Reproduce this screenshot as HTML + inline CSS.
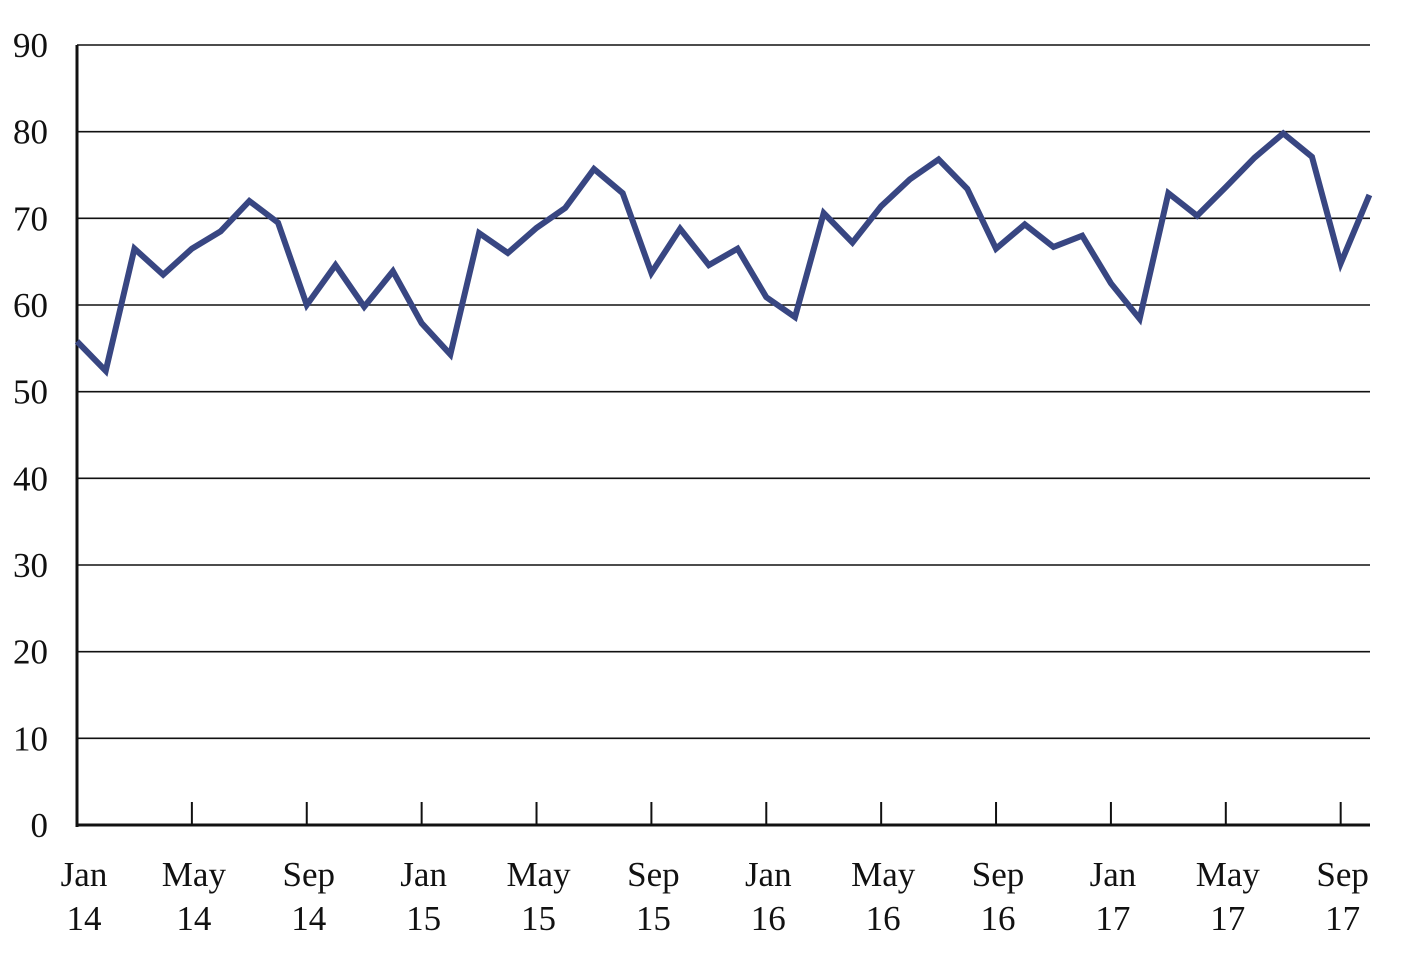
<!DOCTYPE html>
<html><head><meta charset="utf-8"><style>
body{margin:0;background:#fff}
svg text{font-family:"Liberation Serif",serif;font-size:35px;fill:#111}
</style></head><body>
<svg width="1418" height="957">
<g id="grid"></g><g id="ylabels"></g><g id="xaxis"></g><g id="series"></g>
</svg>
<script>
const values=[55.8,52.4,66.5,63.5,66.5,68.5,72,69.5,60,64.6,59.8,63.9,57.9,54.3,68.3,66,68.9,71.2,75.7,72.9,63.7,68.8,64.6,66.5,60.9,58.6,70.6,67.2,71.4,74.5,76.8,73.4,66.5,69.3,66.7,68,62.5,58.4,72.9,70.3,73.6,77,79.8,77.1,64.8,72.7];
const yTicks=[0,10,20,30,40,50,60,70,80,90];
const xTickIdx=[0,4,8,12,16,20,24,28,32,36,40,44];
const xTickLabels=[["Jan","14"],["May","14"],["Sep","14"],["Jan","15"],["May","15"],["Sep","15"],["Jan","16"],["May","16"],["Sep","16"],["Jan","17"],["May","17"],["Sep","17"]];
const NS="http://www.w3.org/2000/svg";
const x0=77,x1=1370,dx=28.72;
const X=i=>x0+i*dx;
const Y=v=>825-v*(780/90);
function mk(t,a,p){const e=document.createElementNS(NS,t);for(const k in a)e.setAttribute(k,a[k]);p.appendChild(e);return e;}
const grid=document.getElementById('grid'),yl=document.getElementById('ylabels'),xa=document.getElementById('xaxis'),se=document.getElementById('series');
yTicks.forEach(v=>{
 if(v>0){const l=mk('line',{x1:x0,x2:x1,y1:Y(v),y2:Y(v),stroke:'#111','stroke-width':1.6},grid);
 
 }
 const t=mk('text',{x:48,y:Y(v)+12,'text-anchor':'end'},yl);t.textContent=v;
 
 
});
let a=mk('line',{x1:x0,x2:x0,y1:Y(90),y2:827,stroke:'#111','stroke-width':3},xa);


a=mk('line',{x1:x0-1,x2:x1,y1:825,y2:825,stroke:'#111','stroke-width':3},xa);


xTickIdx.forEach((i,k)=>{
 if(i>0){const tk=mk('line',{x1:X(i),x2:X(i),y1:802,y2:825,stroke:'#111','stroke-width':2},xa);
 
 }
 const cx=X(i)+(i===0?7:2);
 const t1=mk('text',{x:cx,y:886,'text-anchor':'middle'},xa);t1.textContent=xTickLabels[k][0];
 
 
 const t2=mk('text',{x:cx,y:930,'text-anchor':'middle'},xa);t2.textContent=xTickLabels[k][1];
 
 
});
const p=mk('polyline',{points:values.map((v,i)=>X(i)+','+Y(v)).join(' '),fill:'none',stroke:'#384682','stroke-width':6,'stroke-linejoin':'miter'},se);


</script>
</body></html>
